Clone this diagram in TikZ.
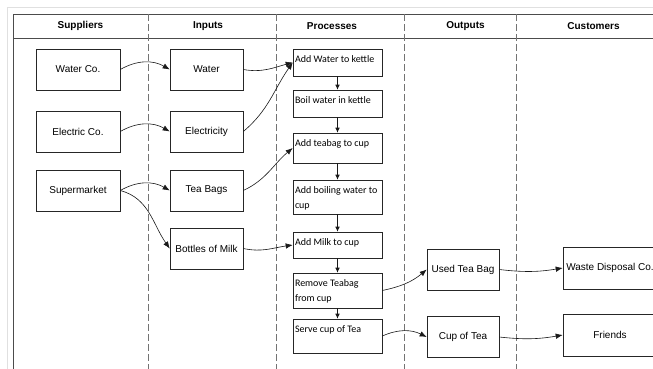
\documentclass[tikz,border=0pt]{standalone}
\usepackage{fontspec}
\setmainfont{Liberation Sans}
\newfontfamily\carlito{Carlito}
\usetikzlibrary{arrows.meta}
\newcommand\ptx[2]{\parbox[c][#1][t]{85pt}{\raggedright\strut #2}}
\begin{document}
\begin{tikzpicture}[x=1pt,y=1pt,
  boxs/.style={draw=black!85, line width=0.6pt, inner sep=0pt, align=center,
    font=\fontsize{10}{12}\selectfont},
  sbox/.style={boxs, minimum width=84pt, minimum height=41pt},
  ibox/.style={boxs, minimum width=73pt, minimum height=41pt},
  obox/.style={boxs, minimum width=72pt, minimum height=41pt},
  cbox/.style={boxs, minimum width=94pt, minimum height=42pt},
  pbox/.style={draw=black!85, line width=0.6pt, inner xsep=2pt, inner ysep=3.5pt,
    font=\carlito\fontsize{10}{14.5}\selectfont},
  head/.style={font=\bfseries\fontsize{10}{12}\selectfont},
  lane/.style={draw=black!55, line width=0.6pt, dash pattern=on 7pt off 3pt},
  frame/.style={draw=black!70, line width=0.8pt},
  arr/.style={-{Latex[length=7pt,width=5.5pt]}, line width=0.6pt, draw=black!90},
  varr/.style={-{Latex[length=5pt,width=4.5pt]}, line width=0.6pt, draw=black!90}
]
\useasboundingbox (0,0) rectangle (653,-368);
\clip (0,0) rectangle (653,-368);
\fill[white] (0,0) rectangle (653,-368);
% outer light border
\draw[black!12, line width=1pt] (7,-7) rectangle (720,-420);
% frame
\draw[frame] (13,-14) rectangle (700,-420);
\draw[frame] (13,-38) -- (700,-38);
% lanes
\foreach \x in {148,276,404,516} \draw[lane] (\x,-14) -- (\x,-420);
% headers
\node[head] (h1) at (80.5,-26) {Suppliers};
\node[head] (h2) at (208,-26) {Inputs};
\node[head] (h3) at (332,-26) {Processes};
\node[head] (h4) at (465.5,-26) {Outputs};
\node[head] (h5) at (593.5,-26) {Customers};
% suppliers
\node[sbox] (wco) at (78,-69.5) {Water Co.};
\node[sbox] (eco) at (78,-131.5) {Electric Co.};
\node[sbox] (sup) at (78,-190.5) {Supermarket};
% inputs
\node[ibox] (wat) at (206.5,-69.5) {Water};
\node[ibox] (ele) at (206.5,-131.5) {Electricity};
\node[ibox] (tea) at (206.5,-190.5) {Tea Bags};
\node[ibox] (mil) at (206.5,-248.5) {Bottles of Milk};
% processes
\node[pbox] (p1) at (337.5,-62.5) {\ptx{20pt}{Add Water to kettle}};
\node[pbox] (p2) at (337.5,-103.5) {\ptx{20pt}{Boil water in kettle}};
\node[pbox] (p3) at (337.5,-148) {\ptx{23pt}{Add teabag to cup}};
\node[pbox] (p4) at (337.5,-197) {\ptx{27pt}{Add boiling water to\\cup}};
\node[pbox] (p5) at (337.5,-245) {\ptx{19pt}{Add Milk to cup}};
\node[pbox] (p6) at (337.5,-290.5) {\ptx{28pt}{Remove Teabag\\from cup}};
\node[pbox] (p7) at (337.5,-336) {\ptx{27pt}{Serve cup of Tea}};
% outputs
\node[obox] (used) at (463,-269.5) {Used Tea Bag};
\node[obox] (cup) at (463,-337) {Cup of Tea};
% customers
\node[cbox] (waste) at (610,-268) {Waste Disposal Co.};
\node[cbox] (fri) at (610,-335) {Friends};
% connectors
\draw[arr] (wco.east) to[bend left=30] (wat.west);
\draw[arr] (eco.east) to[bend left=30] (ele.west);
\draw[arr] (sup.east) to[bend left=30] (tea.west);
\draw[arr] (sup.east) to[out=-15,in=125] (mil.west);
\draw[arr] (wat.east) to[out=-10,in=195] (p1.west);
\draw[arr] (ele.east) to[out=40,in=235] (p1.west);
\draw[arr] (tea.east) to[out=25,in=220] (p3.west);
\draw[arr] (mil.east) to[out=-12,in=188] (p5.west);
\draw[varr] (p1.south) -- (p2.north);
\draw[varr] (p2.south) -- (p3.north);
\draw[varr] (p3.south) -- (p4.north);
\draw[varr] (p4.south) -- (p5.north);
\draw[varr] (p5.south) -- (p6.north);
\draw[varr] (p6.south) -- (p7.north);
\draw[arr] (p6.east) to[out=12,in=220] (used.west);
\draw[arr] (p7.east) to[bend left=25] (cup.west);
\draw[arr] (used.east) to[bend right=8] (waste.west);
\draw[arr] (cup.east) to[bend right=8] (fri.west);
\end{tikzpicture}
\end{document}
